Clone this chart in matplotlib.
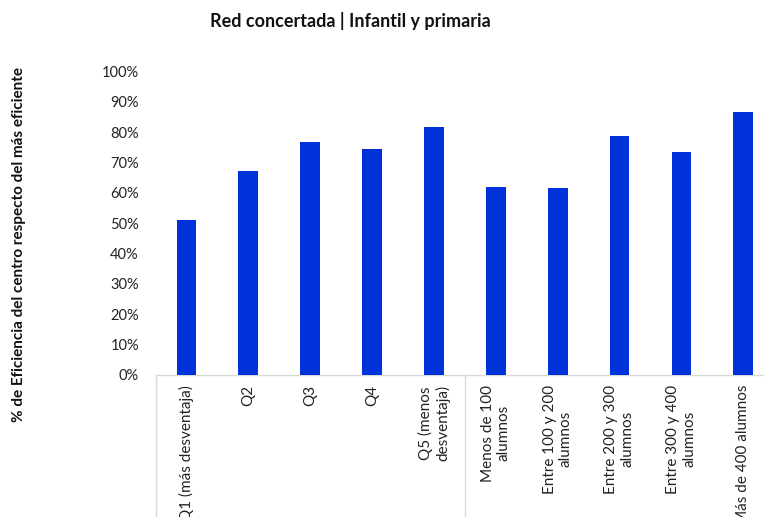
import matplotlib
matplotlib.use("Agg")
import matplotlib.pyplot as plt
from matplotlib.ticker import PercentFormatter

categories = [
    "Q1 (más desventaja)",
    "Q2",
    "Q3",
    "Q4",
    "Q5 (menos\ndesventaja)",
    "Menos de 100\nalumnos",
    "Entre 100 y 200\nalumnos",
    "Entre 200 y 300\nalumnos",
    "Entre 300 y 400\nalumnos",
    "Más de 400 alumnos",
]
eficiencia = [0.511, 0.672, 0.769, 0.744, 0.816, 0.618, 0.615, 0.787, 0.734, 0.866]
y_ticks = [0.0, 0.1, 0.2, 0.3, 0.4, 0.5, 0.6, 0.7, 0.8, 0.9, 1.0]

title = "Red concertada | Infantil y primaria"
y_label = "% de Eficiencia del centro respecto del más eficiente"

plt.rcParams["font.family"] = ["Lato", "DejaVu Sans"]

W, H = 764, 517
fig = plt.figure(figsize=(W / 100, H / 100), dpi=100)
fig.patch.set_facecolor("white")

step = 61.86
left_px = 155.6
ax = fig.add_axes([left_px / W, 1 - 375 / H, (W - left_px + 2) / W, (375 - 71.5) / H])
x = list(range(len(categories)))
ax.bar(x, eficiencia, width=0.32, color="#0032DA", zorder=3)

ax.set_xlim(-0.5, -0.5 + (W - left_px + 2) / step)
ax.set_ylim(0, 1.0)
ax.set_yticks(y_ticks)
ax.yaxis.set_major_formatter(PercentFormatter(1.0, decimals=0))
ax.tick_params(axis="y", length=0, pad=12, labelsize=10.5, labelcolor="#222222")
ax.set_xticks([])

for s in ["top", "right", "left"]:
    ax.spines[s].set_visible(False)
ax.spines["bottom"].set_color("#D9D9D9")
ax.spines["bottom"].set_linewidth(1.0)

# category labels, rotated, hanging below the axis
for xi, lab in zip(x, categories):
    ax.annotate(lab, xy=(xi, 0), xycoords="data", xytext=(0, -7),
                textcoords="offset points", rotation=90, ha="center", va="top",
                multialignment="center", fontsize=11, color="#222222",
                annotation_clip=False)

# group separators of the category axis
for sx in [-0.5, 4.5]:
    ax.plot([sx, sx], [0, -0.6], color="#D9D9D9", lw=1.0, clip_on=False)

fig.text(350 / W, 1 - 21 / H, title, ha="center", va="center",
         fontsize=13, fontweight="bold", color="#111111")
fig.text(19 / W, 1 - 244 / H, y_label, ha="center", va="center", rotation=90,
         fontsize=11, fontweight="bold", color="#111111")

fig.savefig("out.png", dpi=100, facecolor="white")
